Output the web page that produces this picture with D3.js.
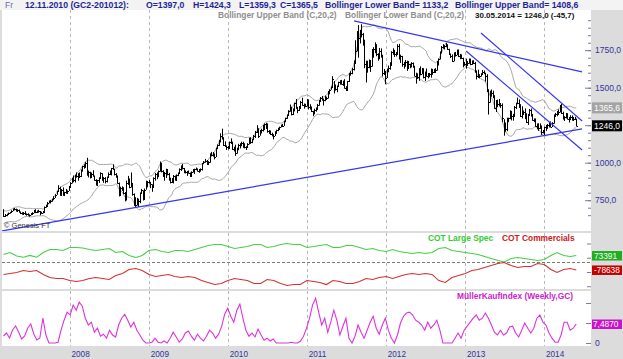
<!DOCTYPE html>
<html>
<head>
<meta charset="utf-8">
<script src="https://cdn.jsdelivr.net/npm/d3@7/dist/d3.min.js"></script>
<style>
html,body{margin:0;padding:0;background:#dcdcdc;overflow:hidden;}
svg{display:block;}
text{font-family:"Liberation Sans",Arial,sans-serif;}
</style>
</head>
<body>
<svg id="chart" width="623" height="359"></svg>
<script>
// ---------------- DATA ----------------
const firstWeek = "2007-03-02";
// 20 weekly closes before the first drawn bar (Bollinger warm-up)
const warmupCloses = [588,597,605,628,625,625,640,647,628,622,623,636,609,631,631,650,651,666,670,686];

const weekHigh = [
// 2007
690,658,660,668,672, 683,695,698,694, 690,688,675,670, 671,677,662,663,656, 664,670,685,690, 682,686,678,673,678, 708,720,738,748, 752,760,777,790, 812,850,840,825,835, 806,825,816,845,
// 2008
870,900,915,920, 935,930,935,955,978, 990,1005,1033,948, 940,935,950,915, 890,885,903,936,930, 905,904,908,935, 948,965,989,960, 930,915,868,840,842, 836,805,880,912, 895,935,862,795,770, 765,760,802,825, 815,828,880,878,
// 2009
884,872,856,903,932, 935,948,1008,998, 950,936,960,958, 932,900,898,918, 915,922,935,962,982, 992,965,948,945, 948,935,942,958,960, 968,962,958,962, 998,1011,1025,1018, 1010,1062,1072,1071,1062, 1100,1122,1152,1196, 1227,1170,1142,1115,
// 2010
1112,1141,1162,1140,1106, 1120,1100,1126,1130, 1140,1140,1130,1110, 1130,1166,1170,1160,1185, 1212,1250,1230,1218, 1226,1252,1262,1266, 1262,1218,1215,1200,1190, 1210,1220,1233,1240, 1254,1258,1280,1300, 1322,1350,1388,1373,1362, 1400,1424.3,1372,1378, 1412,1433,1395,1392,1425,
// 2011
1422,1390,1375,1346, 1360,1369,1392,1418, 1438,1445,1428,1447, 1440,1478,1490,1508,1577, 1545,1521,1515,1540, 1550,1552,1547,1557, 1510,1545,1597,1610,1632, 1682,1816,1878,1917, 1885,1923,1865,1820,1680, 1680,1688,1684,1758, 1770,1802,1790,1730, 1765,1762,1720,1625,1612,
// 2012
1628,1648,1670,1743, 1763,1752,1738,1790, 1792,1720,1712,1672,1685, 1680,1678,1660,1670, 1668,1646,1600,1596, 1630,1642,1632,1630,1608, 1628,1598,1598,1628, 1625,1625,1630,1678,1695, 1742,1778,1790,1784, 1798,1790,1760,1728, 1722,1736,1738,1754,1755, 1725,1722,1700,1672,
// 2013
1694,1678,1695,1694, 1682,1683,1672,1615, 1620,1590,1597,1618,1615, 1600,1590,1490,1480, 1488,1480,1450,1418,1420, 1425,1398,1395,1290, 1268,1300,1300,1349, 1345,1325,1378,1400,1434, 1422,1390,1376,1348, 1362,1330,1325,1358, 1361,1325,1295,1295,1262, 1263,1262,1248,1218,
// 2014
1240,1252,1258,1272,1275, 1270,1322,1332,1345, 1355,1385,1392,1340, 1310,1332,1330,1305, 1316,1315,1305,1306,1294
];

const weekLow = [
// 2007
638,638,643,652,660, 667,677,682,676, 675,668,658,655, 656,652,647,648,640, 650,656,664,664, 664,667,650,660,662, 672,700,712,730, 728,740,750,765, 786,807,780,785,780, 782,795,792,812,
// 2008
835,862,870,868, 900,880,898,905,940, 960,965,915,902, 895,900,908,880, 850,852,865,895,880, 866,862,868,900, 918,915,952,915, 900,860,775,780,812, 790,742,748,852, 830,835,780,712,706, 715,705,730,795, 748,752,820,836,
// 2009
860,830,806,835,880, 890,904,940,935, 905,880,898,916, 880,862,866,862, 882,880,910,925,945, 955,930,928,912, 928,905,910,935,925, 950,942,933,940, 948,990,1000,985, 990,1000,1042,1040,1022, 1038,1090,1112,1135, 1158,1111,1105,1085,
// 2010
1088,1095,1125,1086,1075, 1045,1060,1083,1095, 1110,1100,1095,1085, 1100,1122,1125,1130,1150, 1165,1198,1165,1180, 1195,1208,1220,1225, 1200,1192,1185,1175,1155, 1178,1192,1210,1220, 1236,1238,1245,1270, 1292,1312,1340,1315,1318, 1342,1359.3,1330,1345, 1360,1380,1360,1370,1375,
// 2011
1355,1357,1338,1310, 1322,1340,1355,1380, 1405,1415,1381,1410, 1418,1428,1456,1486,1500, 1462,1480,1470,1505, 1520,1522,1512,1495, 1478,1484,1538,1580,1590, 1615,1660,1742,1700, 1795,1835,1780,1630,1535, 1600,1630,1605,1640, 1700,1730,1710,1680, 1690,1700,1575,1585,1523,
// 2012
1565,1603,1620,1645, 1720,1705,1708,1720, 1688,1665,1640,1627,1640, 1612,1628,1630,1635, 1633,1578,1527,1558, 1546,1582,1590,1562,1545, 1575,1562,1570,1567, 1586,1598,1598,1614,1648, 1688,1728,1760,1755, 1770,1752,1718,1698, 1672,1676,1707,1717,1705, 1690,1692,1636,1646,
// 2013
1627,1645,1660,1650, 1652,1660,1600,1555, 1565,1562,1574,1590,1590, 1540,1470,1321,1400, 1440,1430,1360,1338,1370, 1375,1365,1270,1180, 1207,1210,1270,1290, 1282,1280,1310,1358,1390, 1365,1305,1295,1318, 1290,1265,1252,1312, 1310,1280,1270,1240,1222, 1212,1225,1185,1195,
// 2014
1182,1212,1225,1235,1238, 1238,1260,1305,1310, 1325,1335,1325,1290, 1278,1295,1290,1268, 1284,1283,1282,1285,1244
];

const weekClose = [
// 2007
646,652,655,665,669, 680,693,692,680, 685,672,667,660, 664,657,656,651,652, 661,667,682,670, 679,676,669,668,673, 705,714,734,745, 747,755,768,786, 810,834,786,821,784, 803,799,814,837,
// 2008
865,897,884,913, 910,925,910,950,975, 975,1000,920,935, 905,925,913,888, 854,882,899,930,888, 900,875,905,928, 930,962,958,926, 910,865,786,832,834, 799,760,865,886, 837,862,788,736,718, 740,744,799,818, 755,820,842,873,
// 2009
868,855,838,898,928, 915,942,1001,942, 940,930,955,924, 898,870,868,913, 886,917,932,958,979, 963,935,937,940, 934,912,938,952,955, 958,948,955,956, 996,1007,1012,992, 1004,1050,1053,1056,1040, 1096,1118,1147,1176, 1161,1118,1110,1105,
// 2010
1097,1138,1130,1092,1083, 1065,1091,1121,1118, 1134,1103,1106,1105, 1126,1161,1139,1155,1180, 1208,1227,1177,1213, 1218,1227,1256,1256, 1209,1211,1189,1188,1181, 1204,1215,1227,1236, 1248,1246,1276,1297, 1318,1345,1372,1328,1357, 1397,1365.5,1352,1363, 1406,1386,1378,1380,1421,
// 2011
1369,1360,1342,1341, 1349,1360,1388,1410, 1429,1421,1418,1429, 1429,1474,1486,1504,1556, 1491,1493,1511,1536, 1542,1528,1539,1501, 1483,1542,1593,1601,1628, 1663,1743,1852,1828, 1877,1857,1813,1657,1622, 1635,1682,1642,1745, 1755,1788,1724,1696, 1746,1711,1598,1605,1566,
// 2012
1617,1631,1665,1738, 1726,1725,1725,1777, 1710,1712,1659,1663,1669, 1632,1660,1643,1664, 1645,1580,1593,1574, 1622,1592,1627,1572,1604, 1580,1593,1589,1622, 1606,1621,1617,1672,1692, 1739,1771,1774,1776, 1781,1758,1724,1712, 1677,1732,1716,1751,1713, 1703,1697,1658,1657,
// 2013
1657,1662,1687,1657, 1667,1667,1610,1578, 1572,1578,1593,1608,1596, 1581,1477,1406,1462, 1467,1445,1365,1387,1393, 1383,1388,1298,1234, 1224,1278,1296,1322, 1310,1313,1371,1395,1396, 1387,1308,1334,1339, 1310,1271,1316,1352, 1313,1287,1288,1243,1251, 1229,1236,1203,1213,
// 2014
1238,1248,1254,1264,1240, 1262,1318,1323,1326, 1338,1380,1333,1294, 1303,1318,1294,1300, 1302,1288,1293,1292,1246
];

const yearLabels = ["2008","2009","2010","2011","2012","2013","2014"];
const priceTickLabels = [750,1000,1250,1500,1750];
const priceMinorTicks = d3.range(650, 1951, 50);
const priceMarkerValues = [1365.6, 1246.0];       // upper band, last close
const priceMarkerTexts  = ["1365,6", "1246,0"];

// COT net positions, thousand contracts, monthly from Mar 2007; last = 30.05.2014
const cotLargeSpec = [85,105,68,55,75,55,105,137,137,126, 158,158,152,137,126,137,147,105,116,74,53,74,
 126,137,116,105,126,126,116,137,158,179,190,190, 168,147,158,168,190,190,158,168,190,200,190,190,
 158,168,179,190,158,158,179,179,158,137,147,126, 116,137,116,105,95,105,95,105,147,158,126,116,
 105,95,84,63,42,21,5,42,53,42,32,21, 32,74,105,74,63,73.391];
const cotCommercials = [-126,-116,-105,-84,-95,-84,-126,-158,-168,-168, -190,-200,-190,-168,-158,-168,-179,-137,-116,-74,-63,-84,
 -126,-147,-137,-126,-147,-158,-147,-158,-190,-210,-232,-221, -190,-168,-179,-190,-221,-221,-179,-190,-221,-242,-232,-232,
 -190,-200,-210,-232,-190,-200,-221,-221,-200,-168,-179,-158, -147,-168,-147,-126,-116,-126,-116,-126,-190,-210,-158,-137,
 -116,-84,-74,-53,-32,-10,0,-32,-53,-42,-42,-10, -21,-74,-105,-74,-63,-78.638];
const cotMarkerTexts = ["73391", "-78638"];
const cotLegend = ["COT Large Spec", "COT Commercials"];

// Müller Kauf Index (weekly, GC), sampled every two weeks from Mar 2007
const muellerIndex = [17.5,25,12.5,32.5,42.5,27.5,10,17.5,37.5,47.5,22.5,7.5,12.5,
 62,20, 0,0,0,2,
 32,57,77,70,95,82,102,92,
 62,45,52,27,37,
 17,22,12,32,20,15,
 45,62,72,57,40,52,32,20,
 7,0,0,2,12,2,0,5,0,
 12,27,15,2,10,25,30,17,7,22,12,5,17,32,25,12,22,42,
 72,87,67,52,82,97,62,32,17,25,15,
 35,20,7,12,5,10,0,0,0,0,0,2,0,0,5,17,
 37,62,95,112,77,
 45,62,27,52,82,57,20,42,62,
 12,0,17,45,27,12,
 32,52,67,37,22,45,62,32,12,0,20,
 50,67,75,77,70,57,52,45,32,52,37,45,57,32,
 0,0,0,0,12,
 25,12,32,42,52,62,70,57,62,75,62,45,27,20,32,20,25,40,42,25,15,32,50,37,25,37,62,70,52,45,25,12,2,2,20,52,52,32,37,47.5];
const muellerMarkerText = "7,4870";
const muellerTickValues = [0, 50, 100];
const muellerLegend = "MüllerKaufIndex (Weekly,GC)";

// trend lines drawn on the chart: [date, price] end points
const trendLines = [
  [["2007-02-23", 545], ["2014-06-26", 1225]],
  [["2011-08-07", 1945], ["2014-06-26", 1605]],
  [["2013-03-16", 1865], ["2014-06-26", 1278]],
  [["2013-01-06", 1745], ["2014-06-26", 1085]]
];

const headerTexts = ["12.11.2010 (GC2-201012):", "O=1397,0", "H=1424,3", "L=1359,3", "C=1365,5",
  "Bollinger Lower Band= 1133,2", "Bollinger Upper Band= 1408,6"];
const indicatorTexts = ["Bollinger Upper Band (C,20,2)", "Bollinger Lower Band (C,20,2)"];
const lastBarText = "30.05.2014 = 1246,0 (-45,7)";

// ---------------- CHART ----------------
const svg = d3.select("#chart");
const W = 623, H = 359;
const L = 2, R = 591;
const P1 = {top: 10, bottom: 231}, P2 = {top: 233, bottom: 289}, P3 = {top: 291, bottom: 346};
const parse = d3.timeParse("%Y-%m-%d");
const t0 = parse(firstWeek);
const weekDates = weekClose.map((_, i) => d3.timeDay.offset(t0, 7 * i));
const tEnd = weekDates[weekDates.length - 1];

const x = d3.scaleTime().domain([new Date(2008,0,1), new Date(2014,0,1)]).range([69.5, 544]);
const yP = d3.scaleLinear().domain([750, 1750]).range([200.2, 50.2]);
const yC = d3.scaleLinear().domain([-279, 310.5]).range([289, 233]);
const yM = d3.scaleLinear().domain([0, 130]).range([343, 291]);

svg.append("rect").attr("width", W).attr("height", H).attr("fill", "#dcdcdc");
svg.append("rect").attr("x", 0).attr("y", 0).attr("width", W).attr("height", 10).attr("fill", "#f3f3f3");
const defs = svg.append("defs");
[P1, P2, P3].forEach((p, k) => {
  svg.append("rect").attr("x", L).attr("y", p.top).attr("width", R - L).attr("height", p.bottom - p.top).attr("fill", "#fff");
  defs.append("clipPath").attr("id", "clip" + k).append("rect")
    .attr("x", L).attr("y", p.top).attr("width", R - L).attr("height", p.bottom - p.top);
});

// vertical year grid lines
const yearDates = yearLabels.map(s => new Date(+s, 0, 1));
[P1, P2, P3].forEach(p => {
  svg.append("g").selectAll("line").data(yearDates).join("line")
    .attr("x1", d => Math.round(x(d)) + 0.5).attr("x2", d => Math.round(x(d)) + 0.5)
    .attr("y1", p.top).attr("y2", p.bottom)
    .attr("stroke", "#b8b8b8").attr("stroke-dasharray", "3,3");
});

// ---- panel 1: price ----
const g1 = svg.append("g").attr("clip-path", "url(#clip0)");
// Bollinger bands (C,20,2)
const allCloses = warmupCloses.concat(weekClose);
const nW = warmupCloses.length;
const bands = weekClose.map((c, i) => {
  const win = allCloses.slice(i + nW - 19, i + nW + 1);
  const m = d3.mean(win);
  const sd = Math.sqrt(d3.mean(win, v => (v - m) * (v - m)));
  return {d: weekDates[i], up: m + 2 * sd, lo: m - 2 * sd};
});
const bandLineUp = d3.line().x(b => x(b.d)).y(b => yP(b.up));
const bandLineLo = d3.line().x(b => x(b.d)).y(b => yP(b.lo));
g1.append("path").attr("d", bandLineUp(bands)).attr("fill", "none").attr("stroke", "#a6a6a6").attr("stroke-width", 1);
g1.append("path").attr("d", bandLineLo(bands)).attr("fill", "none").attr("stroke", "#a6a6a6").attr("stroke-width", 1);

// HLC bars
const bars = weekClose.map((c, i) => ({d: weekDates[i], h: weekHigh[i], l: weekLow[i], c: c}));
const gb = g1.append("g").attr("stroke", "#000").attr("stroke-width", 1);
gb.selectAll("line.hl").data(bars).join("line").attr("class", "hl")
  .attr("x1", b => Math.round(x(b.d)) + 0.5).attr("x2", b => Math.round(x(b.d)) + 0.5)
  .attr("y1", b => yP(b.h)).attr("y2", b => yP(b.l));
gb.selectAll("line.cl").data(bars).join("line").attr("class", "cl")
  .attr("x1", b => Math.round(x(b.d)) + 0.5).attr("x2", b => Math.round(x(b.d)) + 2)
  .attr("y1", b => Math.round(yP(b.c)) + 0.5).attr("y2", b => Math.round(yP(b.c)) + 0.5);

// trend lines
const tl = d3.line().x(p => x(parse(p[0]))).y(p => yP(p[1]));
g1.selectAll("path.trend").data(trendLines).join("path").attr("class", "trend")
  .attr("d", tl).attr("fill", "none").attr("stroke", "#3636f2").attr("stroke-width", 1.2);

// price axis
const axP = d3.axisRight(yP).tickValues(priceTickLabels).tickSizeInner(-6).tickSizeOuter(0).tickPadding(4)
  .tickFormat(v => d3.format(".1f")(v).replace(".", ","));
const ga = svg.append("g").attr("transform", `translate(${R},0)`).call(axP);
ga.select(".domain").remove();
ga.selectAll("line").attr("stroke", "#7a7a9a");
ga.selectAll("text").attr("fill", "#33339a").attr("font-size", "8.5px").attr("font-family", "Liberation Sans, Arial");
const axPm = d3.axisRight(yP).tickValues(priceMinorTicks).tickSizeInner(-3).tickSizeOuter(0).tickFormat("");
const gam = svg.append("g").attr("transform", `translate(${R},0)`).call(axPm);
gam.select(".domain").remove();
gam.selectAll("line").attr("stroke", "#7a7a9a");

// price markers
const markerFill = ["#a4a4a4", "#000"];
priceMarkerValues.forEach((v, k) => {
  const yy = yP(v);
  svg.append("rect").attr("x", 592).attr("y", yy - 5.5).attr("width", 30).attr("height", 11).attr("fill", markerFill[k]);
  svg.append("text").attr("x", 594).attr("y", yy).attr("dy", "0.35em").attr("fill", "#fff")
    .attr("font-size", "8.5px").text(priceMarkerTexts[k]);
});

// header
const hx = [25, 146, 193, 239, 280, 325, 455];
svg.append("text").attr("x", 5).attr("y", 8.3).attr("fill", "#6a6aa8").attr("font-size", "8.5px").text("Fr");
headerTexts.forEach((t, k) => {
  svg.append("text").attr("x", hx[k]).attr("y", 8.3).attr("fill", "#1f1f95").attr("font-weight", "bold")
    .attr("font-size", "8.7px").text(t);
});
const ix = [218, 345];
indicatorTexts.forEach((t, k) => {
  svg.append("text").attr("x", ix[k]).attr("y", 17.5).attr("fill", "#8e8e8e").attr("font-weight", "bold")
    .attr("font-size", "8.4px").text(t);
});
svg.append("text").attr("x", 475).attr("y", 17.5).attr("fill", "#111").attr("font-weight", "bold")
  .attr("font-size", "8px").text(lastBarText);
svg.append("text").attr("x", 4).attr("y", 228).attr("fill", "#333").attr("font-size", "7.5px").text("© Genesis FT");

// ---- panel 2: COT ----
const g2 = svg.append("g").attr("clip-path", "url(#clip1)");
const cotDates = cotLargeSpec.map((_, i) => { const d = d3.timeMonth.offset(t0, i); return d > tEnd ? tEnd : d; });
g2.append("line").attr("x1", L).attr("x2", R).attr("y1", Math.round(yC(0)) + 0.5).attr("y2", Math.round(yC(0)) + 0.5)
  .attr("stroke", "#777").attr("stroke-dasharray", "3,2");
const cl = d3.line().x((v, i) => x(cotDates[i])).y(v => yC(v));
g2.append("path").attr("d", cl(cotLargeSpec)).attr("fill", "none").attr("stroke", "#44d044").attr("stroke-width", 1.1);
g2.append("path").attr("d", cl(cotCommercials)).attr("fill", "none").attr("stroke", "#d43030").attr("stroke-width", 1.1);
const axC = d3.axisRight(yC).tickValues([200, 50, -100, -250]).tickSizeInner(-4).tickSizeOuter(0).tickFormat("");
const gc = svg.append("g").attr("transform", `translate(${R},0)`).call(axC);
gc.select(".domain").remove(); gc.selectAll("line").attr("stroke", "#7a7a9a");
const legCol = ["#33cc33", "#cc2020"];
const legX = [428, 502];
cotLegend.forEach((t, k) => {
  svg.append("text").attr("x", legX[k]).attr("y", 241).attr("fill", legCol[k]).attr("font-weight", "bold")
    .attr("font-size", "8.4px").text(t);
});
const cotLastVals = [cotLargeSpec[cotLargeSpec.length - 1], cotCommercials[cotCommercials.length - 1]];
const cotBox = ["#1fae1f", "#c40000"];
cotLastVals.forEach((v, k) => {
  const yy = yC(v);
  svg.append("rect").attr("x", 592).attr("y", yy - 4.5).attr("width", 30).attr("height", 9.5).attr("fill", cotBox[k]);
  svg.append("text").attr("x", 594).attr("y", yy + 0.3).attr("dy", "0.35em").attr("fill", "#fff")
    .attr("font-size", "8.3px").text(cotMarkerTexts[k]);
});

// ---- panel 3: Müller index ----
const g3 = svg.append("g").attr("clip-path", "url(#clip2)");
const mDates = muellerIndex.map((_, i) => { const d = d3.timeDay.offset(t0, 14 * i); return d > tEnd ? tEnd : d; });
const ml = d3.line().x((v, i) => x(mDates[i])).y(v => yM(v));
g3.append("path").attr("d", ml(muellerIndex)).attr("fill", "none").attr("stroke", "#dd33dd").attr("stroke-width", 1.1);
const axM = d3.axisRight(yM).tickValues(muellerTickValues).tickSizeInner(-5).tickSizeOuter(0).tickPadding(4)
  .tickFormat(v => v === 0 ? "0" : "");
const gm = svg.append("g").attr("transform", `translate(${R},0)`).call(axM);
gm.select(".domain").remove(); gm.selectAll("line").attr("stroke", "#7a7a9a");
gm.selectAll("text").attr("fill", "#33339a").attr("font-size", "8.5px").attr("font-family", "Liberation Sans, Arial");
svg.append("text").attr("x", 457).attr("y", 298.5).attr("fill", "#cc22cc").attr("font-weight", "bold")
  .attr("font-size", "8.4px").text(muellerLegend);
{
  const yy = yM(muellerIndex[muellerIndex.length - 1]);
  svg.append("rect").attr("x", 592).attr("y", yy - 4.5).attr("width", 30).attr("height", 9.5).attr("fill", "#cc11cc");
  svg.append("text").attr("x", 593).attr("y", yy + 0.3).attr("dy", "0.35em").attr("fill", "#fff")
    .attr("font-size", "8.3px").text(muellerMarkerText);
}

// ---- time axis ----
const axT = d3.axisBottom(x).tickValues(yearDates).tickSize(0).tickPadding(0).tickFormat((d, i) => yearLabels[i]);
const gt = svg.append("g").attr("transform", `translate(0,${P3.bottom})`).call(axT);
gt.select(".domain").remove();
gt.selectAll("text").attr("text-anchor", "start").attr("x", 1.5).attr("y", 10.5).attr("dy", 0)
  .attr("fill", "#33339a").attr("font-size", "8.2px").attr("font-family", "Liberation Sans, Arial");
</script>
</body>
</html>
